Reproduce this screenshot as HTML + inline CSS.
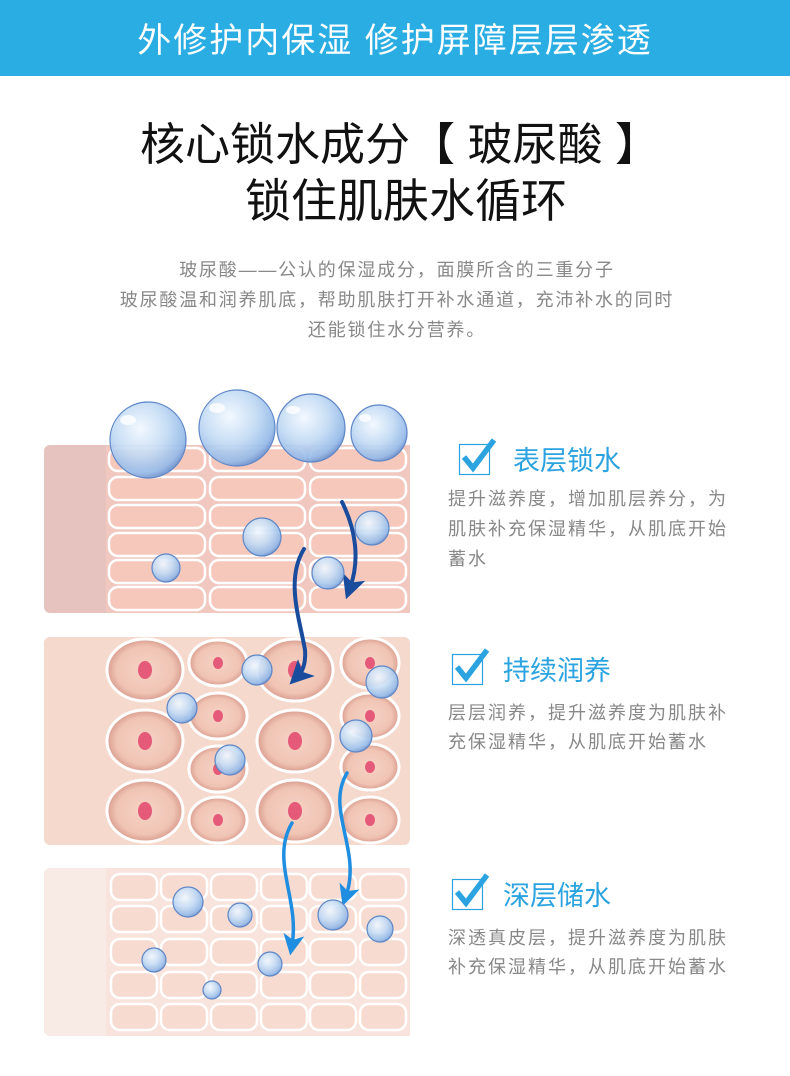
<!DOCTYPE html>
<html><head><meta charset="utf-8"><style>
html,body{margin:0;padding:0;background:#fff}
svg{display:block}
text{font-family:"Liberation Sans","Noto Sans CJK SC",sans-serif}
</style></head><body>
<svg width="790" height="1076" viewBox="0 0 790 1076" xmlns="http://www.w3.org/2000/svg">
<defs>
<radialGradient id="drop" cx="0.4" cy="0.35" r="0.7">
<stop offset="0" stop-color="#f2f8ff"/>
<stop offset="0.5" stop-color="#c3dbf4"/>
<stop offset="0.85" stop-color="#94b9e8"/>
<stop offset="1" stop-color="#5f86c8"/>
</radialGradient>
<radialGradient id="cellg" cx="0.5" cy="0.5" r="0.5">
<stop offset="0" stop-color="#f6d3c6"/>
<stop offset="0.75" stop-color="#f0c4b4"/>
<stop offset="1" stop-color="#d99d8f"/>
</radialGradient>
<marker id="ad" markerWidth="6" markerHeight="6" refX="3" refY="3" orient="auto"><path d="M0,0 L6,3 L0,6 L1.5,3Z" fill="#1a4c9e"/></marker>
<marker id="al" markerWidth="6" markerHeight="6" refX="3" refY="3" orient="auto"><path d="M0,0 L6,3 L0,6 L1.5,3Z" fill="#1f8ee0"/></marker>
</defs>
<rect x="0" y="0" width="790" height="76" fill="#2aade3"/>
<text x="395" y="52" font-size="34" fill="#fff" text-anchor="middle" letter-spacing="2">外修护内保湿  修护屏障层层渗透</text>
<text x="400" y="160" font-size="45" fill="#111" text-anchor="middle">核心锁水成分【 玻尿酸 】</text>
<text x="406" y="217" font-size="46" fill="#111" text-anchor="middle">锁住肌肤水循环</text>
<g font-size="18" fill="#888" text-anchor="middle" letter-spacing="1.8">
<text x="397" y="276">玻尿酸——公认的保湿成分，面膜所含的三重分子</text>
<text x="397" y="306">玻尿酸温和润养肌底，帮助肌肤打开补水通道，充沛补水的同时</text>
<text x="397" y="336">还能锁住水分营养。</text>
</g>

<!-- panel 1 -->
<rect x="44" y="445" width="366" height="168" rx="6" fill="#e6c3bf"/>
<rect x="106" y="445" width="304" height="168" fill="#f0c8c0"/>
<g fill="#f6c8bc" stroke="#fff" stroke-width="2.5">
<rect x="109" y="448" width="96" height="23" rx="9"/><rect x="210" y="448" width="95" height="23" rx="9"/><rect x="310" y="448" width="96" height="23" rx="9"/>
<rect x="109" y="477" width="96" height="23" rx="9"/><rect x="210" y="477" width="95" height="23" rx="9"/><rect x="310" y="477" width="96" height="23" rx="9"/>
<rect x="109" y="505" width="96" height="23" rx="9"/><rect x="210" y="505" width="95" height="23" rx="9"/><rect x="310" y="505" width="96" height="23" rx="9"/>
<rect x="109" y="533" width="96" height="23" rx="9"/><rect x="210" y="533" width="95" height="23" rx="9"/><rect x="310" y="533" width="96" height="23" rx="9"/>
<rect x="109" y="560" width="96" height="23" rx="9"/><rect x="210" y="560" width="95" height="23" rx="9"/><rect x="310" y="560" width="96" height="23" rx="9"/>
<rect x="109" y="587" width="96" height="23" rx="9"/><rect x="210" y="587" width="95" height="23" rx="9"/><rect x="310" y="587" width="96" height="23" rx="9"/>
</g>

<!-- panel 2 -->
<rect x="44" y="637" width="366" height="208" rx="6" fill="#f5d9cd"/>
<g fill="url(#cellg)" stroke="#fff" stroke-width="3">
<ellipse cx="145" cy="670" rx="38" ry="31"/><ellipse cx="218" cy="663" rx="29" ry="23"/><ellipse cx="295" cy="670" rx="38" ry="31"/><ellipse cx="370" cy="663" rx="29" ry="25"/>
<ellipse cx="145" cy="741" rx="38" ry="31"/><ellipse cx="218" cy="716" rx="29" ry="23"/><ellipse cx="295" cy="741" rx="38" ry="31"/><ellipse cx="370" cy="716" rx="29" ry="23"/>
<ellipse cx="218" cy="769" rx="29" ry="23"/><ellipse cx="370" cy="767" rx="29" ry="23"/>
<ellipse cx="145" cy="811" rx="38" ry="31"/><ellipse cx="218" cy="820" rx="29" ry="23"/><ellipse cx="295" cy="811" rx="38" ry="31"/><ellipse cx="370" cy="820" rx="29" ry="23"/>
</g>
<g fill="#e55a78">
<ellipse cx="145" cy="670" rx="7" ry="9"/><ellipse cx="218" cy="663" rx="5" ry="6"/><ellipse cx="295" cy="670" rx="7" ry="9"/><ellipse cx="370" cy="663" rx="5" ry="6"/>
<ellipse cx="145" cy="741" rx="7" ry="9"/><ellipse cx="218" cy="716" rx="5" ry="6"/><ellipse cx="295" cy="741" rx="7" ry="9"/><ellipse cx="370" cy="716" rx="5" ry="6"/>
<ellipse cx="218" cy="769" rx="5" ry="6"/><ellipse cx="370" cy="767" rx="5" ry="6"/>
<ellipse cx="145" cy="811" rx="7" ry="9"/><ellipse cx="218" cy="820" rx="5" ry="6"/><ellipse cx="295" cy="811" rx="7" ry="9"/><ellipse cx="370" cy="820" rx="5" ry="6"/>
</g>

<!-- panel 3 -->
<rect x="44" y="868" width="366" height="168" rx="6" fill="#f8eae5"/>
<rect x="106" y="868" width="304" height="168" fill="#f8e4dc"/>
<g fill="#f7dbd1" stroke="#fff" stroke-width="2.5">
<g id="r3"><rect x="111" y="874" width="46" height="26" rx="9"/><rect x="161" y="874" width="46" height="26" rx="9"/><rect x="211" y="874" width="46" height="26" rx="9"/><rect x="261" y="874" width="46" height="26" rx="9"/><rect x="310" y="874" width="46" height="26" rx="9"/><rect x="360" y="874" width="46" height="26" rx="9"/></g>
<use href="#r3" y="32"/><use href="#r3" y="65"/><use href="#r3" y="98"/><use href="#r3" y="130"/>
</g>

<!-- arrows -->
<g fill="none" stroke-width="4" stroke-linecap="round">
<path d="M342,502 C356,530 360,560 350,588" stroke="#1a4c9e" marker-end="url(#ad)"/>
<path d="M304,549 C285,580 300,620 305,650 C306,665 302,672 298,676" stroke="#1a4c9e" marker-end="url(#ad)"/>
<path d="M292,823 C270,860 300,900 292,945" stroke="#1f8ee0" stroke-width="3.5" marker-end="url(#al)"/>
<path d="M347,773 C325,810 362,850 346,896" stroke="#1f8ee0" stroke-width="3.5" marker-end="url(#al)"/>
</g>

<!-- drops -->
<g fill="url(#drop)" stroke="#5e86c6" stroke-width="1.2" fill-opacity="0.92">
<circle cx="148" cy="440" r="38"/><circle cx="237" cy="428" r="38"/><circle cx="311" cy="428" r="34"/><circle cx="379" cy="433" r="28"/>
<circle cx="262" cy="537" r="19"/><circle cx="166" cy="568" r="14"/><circle cx="372" cy="528" r="17"/><circle cx="328" cy="573" r="16"/>
<circle cx="257" cy="670" r="15"/><circle cx="182" cy="708" r="15"/><circle cx="230" cy="760" r="15"/><circle cx="382" cy="682" r="16"/><circle cx="356" cy="736" r="16"/>
<circle cx="188" cy="902" r="15"/><circle cx="240" cy="915" r="12"/><circle cx="333" cy="915" r="15"/><circle cx="380" cy="929" r="13"/><circle cx="154" cy="960" r="12"/><circle cx="270" cy="964" r="12"/><circle cx="212" cy="990" r="9"/>
</g>
<g fill="#fff" opacity="0.8">
<ellipse cx="128" cy="420" rx="8" ry="5"/><ellipse cx="217" cy="408" rx="8" ry="5"/><ellipse cx="293" cy="410" rx="7" ry="4"/><ellipse cx="365" cy="418" rx="6" ry="4"/>
</g>

<!-- right text -->
<g id="cb">
<rect x="459.5" y="444.5" width="30" height="30" fill="none" stroke="#2aa3e0" stroke-width="1.2"/>
<path d="M464,457 L473,468 L494,440" fill="none" stroke="#2aa3e0" stroke-width="5.5"/>
</g>
<use href="#cb" x="-7" y="210"/><use href="#cb" x="-7" y="435"/>
<g font-size="27" fill="#2aa3e0">
<text x="513" y="470">表层锁水</text>
<text x="503" y="680">持续润养</text>
<text x="503" y="905">深层储水</text>
</g>
<g font-size="18" fill="#888" letter-spacing="2">
<text x="448" y="505">提升滋养度，增加肌层养分，为</text>
<text x="448" y="535">肌肤补充保湿精华，从肌底开始</text>
<text x="448" y="565">蓄水</text>
<text x="448" y="719">层层润养，提升滋养度为肌肤补</text>
<text x="448" y="748">充保湿精华，从肌底开始蓄水</text>
<text x="448" y="944">深透真皮层，提升滋养度为肌肤</text>
<text x="448" y="973">补充保湿精华，从肌底开始蓄水</text>
</g>
</svg>
</body></html>
